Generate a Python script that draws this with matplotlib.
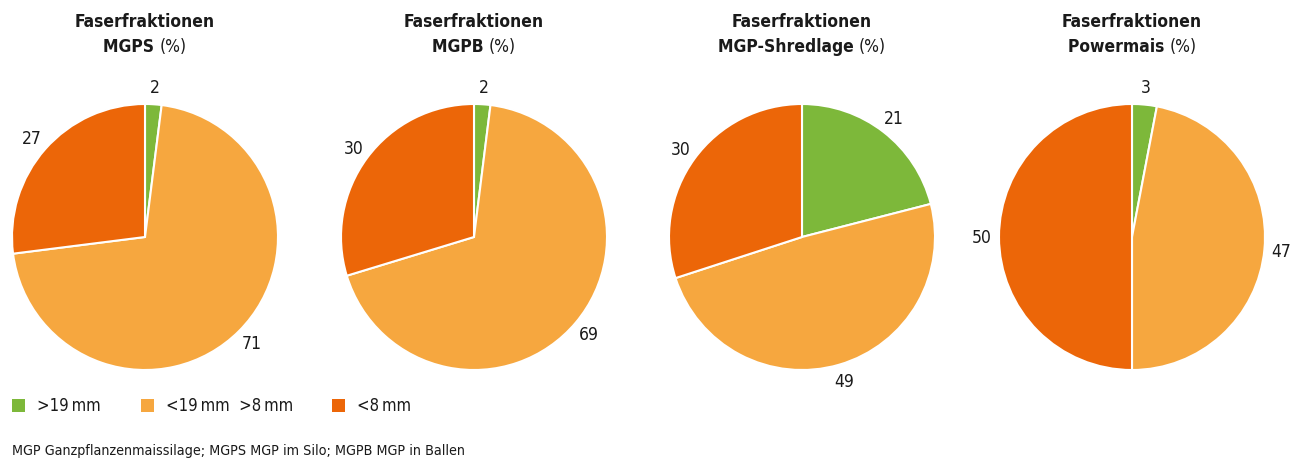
import matplotlib
matplotlib.use("Agg")
import matplotlib.pyplot as plt
from matplotlib.patches import Rectangle
from matplotlib import font_manager
from matplotlib.font_manager import FontProperties

# pick a condensed font if one is installed
reg_path, bold_path = None, None
cands = []
for f in font_manager.fontManager.ttflist:
    fn = f.fname.lower()
    if ("condensed" in fn or "narrow" in fn) and "oblique" not in fn and "italic" not in fn:
        cands.append(f)
for f in cands:
    fn = f.fname.lower()
    if "bold" in fn and bold_path is None and "semi" not in fn and "extra" not in fn:
        bold_path = f.fname
    elif "bold" not in fn and "light" not in fn and "semi" not in fn and "extra" not in fn \
            and "medium" not in fn and "thin" not in fn and reg_path is None:
        reg_path = f.fname

def fp(size, bold=False):
    path = bold_path if bold else reg_path
    if path:
        return FontProperties(fname=path, size=size)
    return FontProperties(family=["Liberation Sans", "DejaVu Sans"], size=size * 0.85,
                          weight="bold" if bold else "normal")

# Data
categories = [">19\u2009mm", "<19\u2009mm  >8\u2009mm", "<8\u2009mm"]
products = ["MGPS", "MGPB", "MGP-Shredlage", "Powermais"]
mgps = [2, 71, 27]
mgpb = [2, 69, 30]
shredlage = [21, 49, 30]
powermais = [3, 47, 50]
series = [mgps, mgpb, shredlage, powermais]
colors = ["#7db83a", "#f6a73f", "#ec6608"]

W, H = 1290, 460
fig = plt.figure(figsize=(W / 100, H / 100), dpi=100)

centers_x = [145, 474, 802, 1132]
cy = 238
R = 133
TXT = "#1a1a1a"

for cx, vals, name in zip(centers_x, series, products):
    ax = fig.add_axes([(cx - R) / W, (H - cy - R) / H, 2 * R / W, 2 * R / H])
    wedges, texts = ax.pie(vals, colors=colors, startangle=90, counterclock=False,
                           labels=[str(v) for v in vals], labeldistance=1.13,
                           wedgeprops=dict(edgecolor="white", linewidth=1.5),
                           textprops=dict(color=TXT))
    for t in texts:
        t.set_ha("center")
        t.set_va("center")
        t.set_fontproperties(fp(12.5))
    ax.set_xlim(-1, 1)
    ax.set_ylim(-1, 1)
    ax.set_aspect("equal")
    ax.axis("off")
    fig.text(cx / W, 1 - 22 / H, "Faserfraktionen", ha="center", va="center",
             fontproperties=fp(12.5, True), color=TXT)
    fig.canvas.draw()
    r = fig.canvas.get_renderer()
    t1 = fig.text(0, 0, name + " ", fontproperties=fp(12.5, True), color=TXT)
    t2 = fig.text(0, 0, "(%)", fontproperties=fp(12.5), color=TXT)
    w1 = t1.get_window_extent(r).width
    w2 = t2.get_window_extent(r).width
    x0 = cx - (w1 + w2) / 2
    t1.set_position((x0 / W, 1 - 47 / H)); t1.set_va("center")
    t2.set_position(((x0 + w1) / W, 1 - 47 / H)); t2.set_va("center")

# legend
leg_x = [12, 141, 332]
for lx, lab, c in zip(leg_x, categories, colors):
    fig.patches.append(Rectangle((lx / W, 1 - 413 / H), 13 / W, 13 / H,
                                 transform=fig.transFigure, facecolor=c, edgecolor="none"))
    fig.text((lx + 25) / W, 1 - 406 / H, lab, ha="left", va="center",
             fontproperties=fp(12), color=TXT)

fig.text(12 / W, 1 - 451 / H, "MGP Ganzpflanzenmaissilage; MGPS MGP im Silo; MGPB MGP in Ballen",
         ha="left", va="center", fontproperties=fp(10.3), color=TXT)

fig.savefig("out.png", dpi=100)
